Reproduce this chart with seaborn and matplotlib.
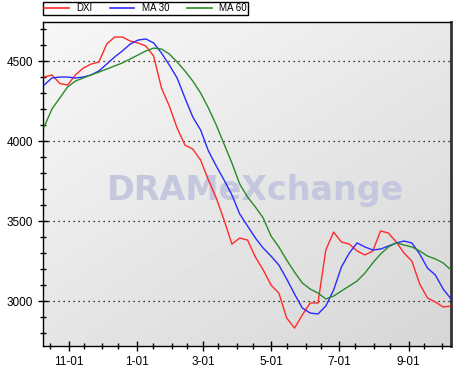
import pandas as pd
import numpy as np
import matplotlib
matplotlib.use("Agg")
import matplotlib.pyplot as plt
import matplotlib.dates as mdates
import seaborn as sns

# weekly sample dates, Oct 2001 - Oct 2002
dates = pd.date_range("2001-10-10", periods=53, freq="7D")

dxi = [4400, 4413, 4360, 4350, 4413, 4456, 4481, 4494, 4606, 4650,
       4650, 4625, 4613, 4594, 4531, 4331, 4219, 4081, 3975, 3950,
       3881, 3756, 3644, 3506, 3356, 3394, 3381, 3275, 3194, 3100,
       3050, 2894, 2831, 2913, 2988, 2988, 3319, 3431, 3369, 3356,
       3313, 3288, 3313, 3438, 3425, 3369, 3300, 3250, 3106, 3019,
       2994, 2963, 2969]
ma30 = [4350, 4394, 4400, 4400, 4394, 4400, 4413, 4438, 4481, 4525,
        4563, 4606, 4631, 4638, 4613, 4550, 4475, 4394, 4269, 4150,
        4069, 3938, 3844, 3756, 3663, 3544, 3469, 3394, 3331, 3281,
        3225, 3138, 3044, 2956, 2925, 2919, 2969, 3069, 3213, 3300,
        3363, 3338, 3319, 3325, 3344, 3363, 3375, 3363, 3294, 3206,
        3163, 3075, 3013]
ma60 = [4088, 4200, 4269, 4338, 4375, 4394, 4413, 4431, 4450, 4469,
        4488, 4513, 4538, 4563, 4581, 4575, 4544, 4494, 4438, 4375,
        4300, 4206, 4100, 3981, 3863, 3731, 3650, 3588, 3519, 3406,
        3338, 3256, 3181, 3113, 3075, 3050, 3013, 3031, 3063, 3094,
        3125, 3175, 3238, 3294, 3338, 3363, 3350, 3338, 3313, 3281,
        3263, 3238, 3194]

series_names = ["DXI", "MA 30", "MA 60"]
colors = ["#ff2a2a", "#2a2aff", "#2a8a2a"]

df = pd.DataFrame({"date": dates, "DXI": dxi, "MA 30": ma30, "MA 60": ma60})
long_df = df.melt(id_vars="date", var_name="series", value_name="price")

plt.rcParams["font.family"] = ["Liberation Sans", "DejaVu Sans"]

fig = plt.figure(figsize=(4.72, 3.75), dpi=100)
ax = fig.add_axes([43 / 472, 1 - 346 / 375, 408 / 472, 324 / 375])

# gray gradient background
gy, gx = np.mgrid[0:1:100j, 0:1:100j]
grad = 0.97 - 0.13 * (0.55 * gy + 0.45 * gx)
ax.imshow(grad, cmap="gray", vmin=0, vmax=1, extent=[0, 1, 0, 1],
          transform=ax.transAxes, aspect="auto", origin="upper", zorder=0)

ax.text(0.52, 0.48, "DRAMeXchange", transform=ax.transAxes, ha="center",
        va="center", fontsize=24, fontweight="bold", color="#c4c7de",
        family="DejaVu Sans", zorder=1)

sns.lineplot(data=long_df, x="date", y="price", hue="series",
             hue_order=series_names, palette=colors, linewidth=1.0,
             ax=ax, legend=False, zorder=3)

ax.set_xlim(pd.Timestamp("2001-10-09"), pd.Timestamp("2002-10-09"))
ax.set_ylim(2719, 4744)
ax.set_xlabel("")
ax.set_ylabel("")

ax.yaxis.set_major_locator(plt.MultipleLocator(500))
ax.yaxis.set_minor_locator(plt.MultipleLocator(100))
ax.xaxis.set_major_locator(mdates.MonthLocator(bymonth=[1, 3, 5, 7, 9, 11]))
ax.xaxis.set_minor_locator(mdates.MonthLocator(bymonthday=[1, 15]))
ax.xaxis.set_major_formatter(
    plt.FuncFormatter(lambda v, p: f"{mdates.num2date(v).month}-01"))

ax.grid(axis="y", which="major", linestyle=(0, (1, 3)), color="black",
        linewidth=0.9)
ax.grid(axis="x", visible=False)
ax.tick_params(which="both", direction="inout", color="black", labelsize=8.5)
ax.tick_params(which="major", length=7, width=1)
ax.tick_params(which="minor", length=5, width=1)
for side in ["left", "bottom", "top"]:
    ax.spines[side].set_color("black")
    ax.spines[side].set_linewidth(1)
ax.spines["right"].set_color("#333333")
ax.spines["right"].set_linewidth(2)

handles = [plt.Line2D([], [], color=c, linewidth=1.2) for c in colors]
fig.legend(handles, series_names, loc="upper left",
           bbox_to_anchor=(43 / 472, 1 - 2 / 375), ncol=3, fontsize=7,
           frameon=True, fancybox=False, edgecolor="black", framealpha=1,
           handlelength=2.5, borderpad=0.15, columnspacing=1.8,
           handletextpad=0.8, borderaxespad=0)

fig.savefig("out.png", dpi=100)
